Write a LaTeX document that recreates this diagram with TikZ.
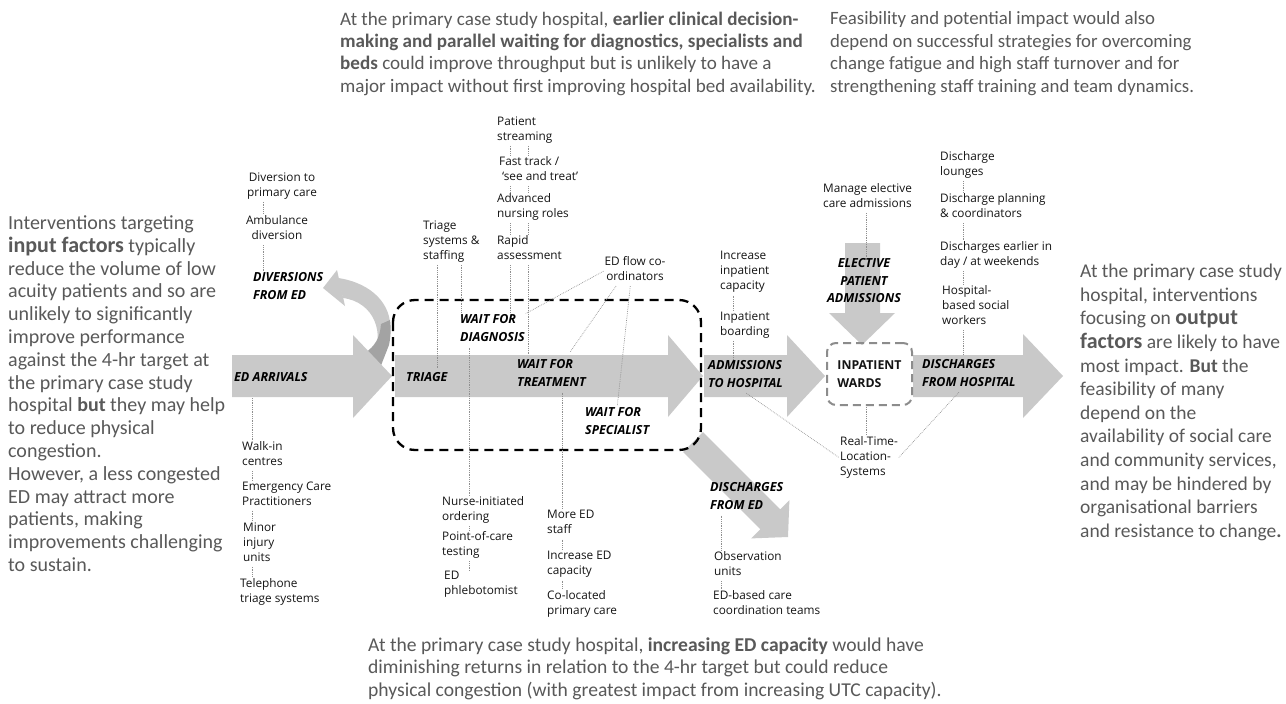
\documentclass[tikz,border=0pt]{standalone}
\usepackage{fontspec}
\setmainfont{Carlito}
\newfontfamily\labfont{Open Sans}
\usetikzlibrary{calc}
\definecolor{arr}{HTML}{C9C9C9}
\definecolor{arrdk}{HTML}{A3A3A3}
\definecolor{paracol}{HTML}{595959}
\definecolor{labcol}{HTML}{141414}
\definecolor{dotcol}{HTML}{8F8F8F}
\definecolor{wardcol}{HTML}{8C8C8C}
\tikzset{
  lab/.style={anchor=north west, inner sep=0pt, align=left, text=labcol,
     font=\labfont\fontsize{11.8}{15}\selectfont, execute at begin node=\strut},
  stage/.style={anchor=north west, inner sep=0pt, align=left, text=black,
     font=\labfont\fontsize{12.5}{17.8}\selectfont\bfseries\itshape, execute at begin node=\strut},
  para/.style 2 args={anchor=north west, inner sep=0pt, align=left, text=paracol,
     font=\fontsize{#1}{#2}\selectfont, execute at begin node=\strut},
  dots/.style={draw=dotcol, line width=0.7pt, dash pattern=on 0.7pt off 1.1pt, shorten <=1pt, shorten >=1pt},
  edbox/.style={draw=black, line width=2.3pt, dash pattern=on 9pt off 6pt, rounded corners=22pt},
  wardbox/.style={draw=wardcol, line width=2pt, dash pattern=on 8pt off 5pt, rounded corners=9pt,
     minimum width=85pt, minimum height=62pt, inner sep=0pt, align=left, text=labcol,
     font=\labfont\fontsize{12.3}{17.8}\selectfont\bfseries}
}
\newcommand{\bigb}[1]{{\fontsize{22}{20}\selectfont\bfseries #1}}
\begin{document}
\begin{tikzpicture}[x=1pt,y=-1pt]
\fill[white] (0,0) rectangle (1286,704);
\useasboundingbox (0,0) rectangle (1286,704);

% ---------- arrows ----------
% curved diversion ribbon
\fill[arr] (338,278) .. controls (372,283) and (393,305) .. (390,332) -- (386,352) -- (372,362)
   .. controls (386,333) and (374,302) .. (343,298) -- cycle;
\fill[arr] (323,288) -- (337,270) -- (345,306) -- cycle;
\fill[arrdk] (381,324) .. controls (380,338) and (375,346) .. (365,353) -- (380,368)
   -- (389,345) .. controls (391,335) and (391,328) .. (390,320) -- cycle;
% ED arrivals
\fill[arr] (232,355) -- (353,355) -- (353,335) -- (392,376) -- (353,418) -- (353,397) -- (232,397) -- cycle;
% discharges from ED (diagonal)
\fill[arr] (702.9,432.1) -- (780.2,509.4) -- (789.4,500.2) -- (788,537) -- (751.2,538.4) -- (760.4,529.2) -- (683.1,451.9) -- cycle;
% main ED arrow
\fill[arr] (395,355) -- (668,355) -- (668,335) -- (703,376) -- (668,417) -- (668,397) -- (395,397) -- cycle;
% admissions
\fill[arr] (704,355) -- (787,355) -- (787,335) -- (825,376) -- (787,417) -- (787,397) -- (704,397) -- cycle;
% discharges from hospital
\fill[arr] (913,355) -- (1023,355) -- (1023,334) -- (1063,376) -- (1023,418) -- (1023,397) -- (913,397) -- cycle;
% elective admissions (down)
\fill[arr] (845,243) -- (880,243) -- (880,313) -- (895,313) -- (862,345) -- (829,313) -- (845,313) -- cycle;

% ED dashed zone
\draw[edbox] (393,300) rectangle (701,450);

% ---------- paragraphs ----------
\node[para={19.1}{22.3}] (toptxt) at (340,11.5) {At the primary case study hospital, \textbf{earlier clinical decision-}\\
\textbf{making and parallel waiting for diagnostics, specialists and}\\
\textbf{beds} could improve throughput but is unlikely to have a\\
major impact without first improving hospital bed availability.};
\node[para={18.8}{22.6}] (toprt) at (830,11.5) {Feasibility and potential impact would also\\
depend on successful strategies for overcoming\\
change fatigue and high staff turnover and for\\
strengthening staff training and team dynamics.};
\node[para={20}{22.8}] (lefttxt) at (8,215.5) {Interventions targeting\\
\bigb{input factors} typically\\
reduce the volume of low\\
acuity patients and so are\\
unlikely to significantly\\
improve performance\\
against the 4-hr target at\\
the primary case study\\
hospital \textbf{but} they may help\\
to reduce physical\\
congestion.\\
However, a less congested\\
ED may attract more\\
patients, making\\
improvements challenging\\
to sustain.};
\node[para={19.5}{23.6}] (righttxt) at (1080,264) {At the primary case study\\
hospital, interventions\\
focusing on \bigb{output}\\
\bigb{factors} are likely to have\\
most impact. \textbf{But} the\\
feasibility of many\\
depend on the\\
availability of social care\\
and community services,\\
and may be hindered by\\
organisational barriers\\
and resistance to change\textbf{.}};
\node[para={19.6}{22.5}] (bottxt) at (368,637.5) {At the primary case study hospital, \textbf{increasing ED capacity} would have\\
diminishing returns in relation to the 4-hr target but could reduce\\
physical congestion (with greatest impact from increasing UTC capacity).};

% ---------- stage labels ----------
\node[stage] (dived) at (253,272) {DIVERSIONS\\FROM ED};
\node[stage] (edarr) at (234,369) {ED ARRIVALS};
\node[stage] (triage) at (406,369) {TRIAGE};
\node[stage] (wdiag) at (460,314) {WAIT FOR\\DIAGNOSIS};
\node[stage] (wtreat) at (517,359) {WAIT FOR\\TREATMENT};
\node[stage] (wspec) at (585,407) {WAIT FOR\\SPECIALIST};
\node[stage] (adm) at (708,360) {ADMISSIONS\\TO HOSPITAL};
\node[stage, anchor=north, align=center] (elect) at (864,258) {ELECTIVE\\PATIENT\\ADMISSIONS};
\node[stage] (dhosp) at (922,359) {DISCHARGES\\FROM HOSPITAL};
\node[stage] (ded) at (710,482) {DISCHARGES\\FROM ED};
\node[wardbox] (wards) at (869.5,374) {INPATIENT\\WARDS};

% ---------- intervention labels ----------
\node[lab, anchor=north, align=center] (divp) at (282,172.3) {Diversion to\\primary care};
\node[lab, anchor=north, align=center] (amb) at (277,215.3) {Ambulance\\diversion};
\node[lab] (tsys) at (423,220.3) {Triage\\systems \&\\staffing};
\node[lab] (pstr) at (497,116.3) {Patient\\streaming};
\node[lab] (fast) at (499,156.3) {Fast track /\\\hspace{3pt}‘see and treat’};
\node[lab] (adv) at (497,193.3) {Advanced\\nursing roles};
\node[lab] (rapid) at (497,235.3) {Rapid\\assessment};
\node[lab, anchor=north, align=center] (edflow) at (635,256.3) {ED flow co-\\ordinators};
\node[lab] (incinp) at (720,251.3) {Increase\\inpatient\\capacity};
\node[lab] (board) at (720,311.3) {Inpatient\\boarding};
\node[lab] (manage) at (823,183.3) {Manage elective\\care admissions};
\node[lab] (dlounge) at (940,151.3) {Discharge\\lounges};
\node[lab] (dplan) at (940,193.3) {Discharge planning\\\& coordinators};
\node[lab] (dearly) at (940,241.3) {Discharges earlier in\\day / at weekends};
\node[lab] (hsw) at (942,285.3) {Hospital-\\based social\\workers};
\node[lab] (rtls) at (840,436.3) {Real-Time-\\Location-\\Systems};
\node[lab] (walkin) at (242,441.3) {Walk-in\\centres};
\node[lab] (ecp) at (242,481.3) {Emergency Care\\Practitioners};
\node[lab] (minor) at (243,522.3) {Minor\\injury\\units};
\node[lab] (tel) at (240,578.3) {Telephone\\triage systems};
\node[lab] (nurse) at (442,496.3) {Nurse-initiated\\ordering};
\node[lab] (poc) at (442,531.3) {Point-of-care\\testing};
\node[lab] (phleb) at (444,571.3) {ED\\phlebotomist};
\node[lab] (moreed) at (547,510.3) {More ED\\staff};
\node[lab] (inced) at (547,551.3) {Increase ED\\capacity};
\node[lab] (coloc) at (547,590.3) {Co-located\\primary care};
\node[lab] (obs) at (714,551.3) {Observation\\units};
\node[lab] (edbased) at (713,590.3) {ED-based care\\coordination teams};

% ---------- column coordinates ----------
\coordinate (c263) at (263,0);
\coordinate (c252) at (252,0);
\coordinate (c437) at (437,0);
\coordinate (c461) at (461,0);
\coordinate (c510) at (510,0);
\coordinate (c528) at (528,0);
\coordinate (c469) at (469,0);
\coordinate (c562) at (562,0);
\coordinate (c733) at (733,0);
\coordinate (c866) at (866,0);
\coordinate (c963) at (963,0);
\coordinate (c721) at (721,0);
\coordinate (edbot) at (252,397);
\coordinate (mtop) at (528,355);
\coordinate (dtop) at (963,355);

% ---------- dotted connectors ----------
\draw[dots] (divp.south -| c263) -- (amb.north -| c263);
\draw[dots] (amb.south -| c263) -- (dived.north -| c263);
\draw[dots] (edbot) -- (walkin.north -| c252);
\draw[dots] (walkin.south -| c252) -- (ecp.north -| c252);
\draw[dots] (ecp.south -| c252) -- (minor.north -| c252);
\draw[dots] (minor.south -| c252) -- (tel.north -| c252);
\draw[dots] (tsys.south -| c437) -- (triage.north -| c437);
\draw[dots] (tsys.south -| c461) -- (wdiag.north -| c461);
\draw[dots] (pstr.south -| c510) -- (fast.north -| c510);
\draw[dots] (fast.south -| c510) -- (adv.north -| c510);
\draw[dots] (adv.south -| c510) -- (rapid.north -| c510);
\draw[dots] (rapid.south -| c510) -- (wdiag.north -| c510);
\draw[dots] (pstr.south -| c528) -- (fast.north -| c528);
\draw[dots] (fast.south -| c528) -- (adv.north -| c528);
\draw[dots] (adv.south -| c528) -- (rapid.north -| c528);
\draw[dots] (rapid.south -| c528) -- (mtop);
\draw[dots] (edflow.west) -- (wdiag.north east);
\draw[dots, shorten >=9pt] ($(edflow.south)!0.6!(edflow.south west)$) -- ($(wtreat.north)!0.4!(wtreat.north east)$);
\draw[dots] ($(edflow.south)!0.15!(edflow.south west)$) -- (wspec.north);
\draw[dots] (wdiag.south -| c469) -- (nurse.north -| c469);
\draw[dots] (nurse.south -| c469) -- (poc.north -| c469);
\draw[dots] (poc.south -| c469) -- (phleb.north -| c469);
\draw[dots] (wtreat.south -| c562) -- (moreed.north -| c562);
\draw[dots] (moreed.south -| c562) -- (inced.north -| c562);
\draw[dots] (inced.south -| c562) -- (coloc.north -| c562);
\draw[dots] (incinp.south -| c733) -- (board.north -| c733);
\draw[dots] (board.south -| c733) -- (adm.north -| c733);
\draw[dots] (adm.south) -- (rtls.west);
\draw[dots] (manage.south -| c866) -- (elect.north -| c866);
\draw[dots] (wards.south -| c866) -- (rtls.north -| c866);
\draw[dots] (dlounge.south -| c963) -- (dplan.north -| c963);
\draw[dots] (dplan.south -| c963) -- (dearly.north -| c963);
\draw[dots] (dearly.south -| c963) -- (hsw.north -| c963);
\draw[dots] (hsw.south -| c963) -- (dtop);
\draw[dots] ($(dhosp.south)!0.2!(dhosp.south west)$) -- (rtls.east);
\draw[dots] (ded.south -| c721) -- (obs.north -| c721);
\draw[dots] (obs.south -| c721) -- (edbased.north -| c721);
\end{tikzpicture}
\end{document}
